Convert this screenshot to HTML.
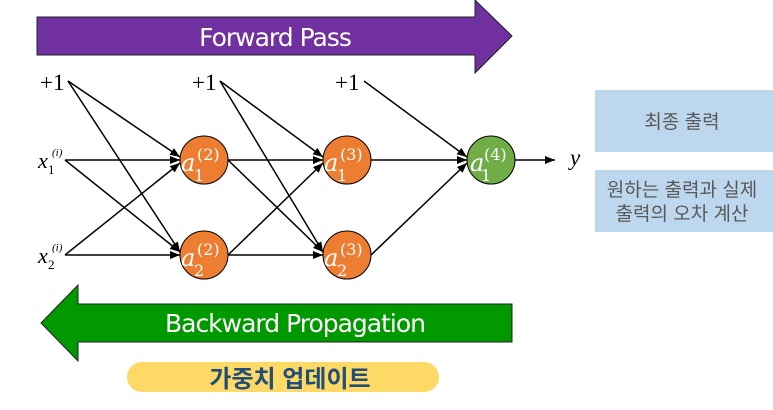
<!DOCTYPE html>
<html><head><meta charset="utf-8"><style>
html,body{margin:0;padding:0;background:#fff;}
svg{display:block}
</style></head><body>
<svg width="773" height="410" viewBox="0 0 773 410" xmlns="http://www.w3.org/2000/svg">
<defs>
<marker id="a" viewBox="0 0 10 10" refX="10" refY="5" markerWidth="12" markerHeight="10" orient="auto" markerUnits="userSpaceOnUse"><path d="M0,1 L10,5 L0,9 z" fill="#000"/></marker></defs>
<polygon points="37,17 475,17 475,0 512,36 475,73 475,55 37,55" fill="#7030a0" stroke="#222" stroke-width="1"/>
<text x="275" y="46" font-family="DejaVu Sans, sans-serif" font-size="25" fill="#fff" text-anchor="middle" letter-spacing="-1">Forward Pass</text>
<polygon points="512,304 78,304 78,285 41,323 78,361 78,342 512,342" fill="#009900" stroke="#222" stroke-width="1"/>
<text x="295" y="332" font-family="DejaVu Sans, sans-serif" font-size="25" fill="#fff" text-anchor="middle" letter-spacing="-1">Backward Propagation</text>
<rect x="127" y="362" width="312" height="30" rx="15" fill="#ffd966"/>
<text x="290" y="387" font-family="Liberation Sans, 'Noto Sans CJK KR', sans-serif" font-size="24" font-weight="bold" fill="#1f4e79" text-anchor="middle">가중치 업데이트</text>
<rect x="595" y="90" width="178" height="62" fill="#bdd7ee"/>
<rect x="595" y="170" width="178" height="62" fill="#bdd7ee"/>
<g font-family="Liberation Sans, 'Noto Sans CJK KR', sans-serif" font-size="19" fill="#595959" text-anchor="middle">
<text x="682" y="128">최종 출력</text>
<text x="682" y="196">원하는 출력과 실제</text>
<text x="682" y="220">출력의 오차 계산</text>
</g>
<g stroke="#000" stroke-width="1.5" fill="none" marker-end="url(#a)">
<line x1="68" y1="81" x2="180" y2="157"/>
<line x1="68" y1="81" x2="180" y2="252"/>
<line x1="65" y1="160" x2="180" y2="160"/>
<line x1="65" y1="160" x2="180" y2="252"/>
<line x1="65" y1="255" x2="180" y2="163"/>
<line x1="65" y1="255" x2="180" y2="255"/>
<line x1="220" y1="81" x2="323" y2="157"/>
<line x1="220" y1="81" x2="323" y2="252"/>
<line x1="228" y1="160" x2="323" y2="160"/>
<line x1="228" y1="160" x2="323" y2="252"/>
<line x1="228" y1="255" x2="323" y2="163"/>
<line x1="228" y1="255" x2="323" y2="255"/>
<line x1="364" y1="81" x2="467" y2="157"/>
<line x1="371" y1="160" x2="467" y2="160"/>
<line x1="371" y1="255" x2="467" y2="163"/>
<line x1="515" y1="160" x2="555" y2="160"/>
</g>
<g stroke="#000" stroke-width="1">
<circle cx="204" cy="160" r="24" fill="#ed7d31"/>
<circle cx="204" cy="255" r="24" fill="#ed7d31"/>
<circle cx="347" cy="160" r="24" fill="#ed7d31"/>
<circle cx="347" cy="255" r="24" fill="#ed7d31"/>
<circle cx="491" cy="160" r="24" fill="#70ad47"/>
</g>
<g font-family="DejaVu Serif, serif" fill="#fff">
<g font-size="24" font-style="italic"><text x="181" y="171">a</text><text x="181" y="266">a</text><text x="324" y="171">a</text><text x="324" y="266">a</text><text x="470" y="171">a</text></g>
<g font-size="16"><text x="194" y="181">1</text><text x="194" y="276">2</text><text x="337" y="181">1</text><text x="337" y="276">2</text><text x="481" y="181">1</text>
<text x="197" y="160">(2)</text><text x="197" y="255">(2)</text><text x="340" y="160">(3)</text><text x="340" y="255">(3)</text><text x="484" y="160">(4)</text></g>
</g>
<g font-family="Liberation Serif, serif" fill="#000">
<text x="40" y="90" font-size="23">+1</text>
<text x="192" y="90" font-size="23">+1</text>
<text x="335" y="90" font-size="23">+1</text>
<text x="570" y="165" font-size="23" font-style="italic">y</text>
<text x="38" y="168" font-size="22" font-style="italic">x</text><text x="48" y="174" font-size="13">1</text><text x="52" y="156" font-size="11" font-style="italic">(i)</text>
<text x="38" y="263" font-size="22" font-style="italic">x</text><text x="48" y="269" font-size="13">2</text><text x="52" y="251" font-size="11" font-style="italic">(i)</text>
</g>
</svg>
</body></html>
